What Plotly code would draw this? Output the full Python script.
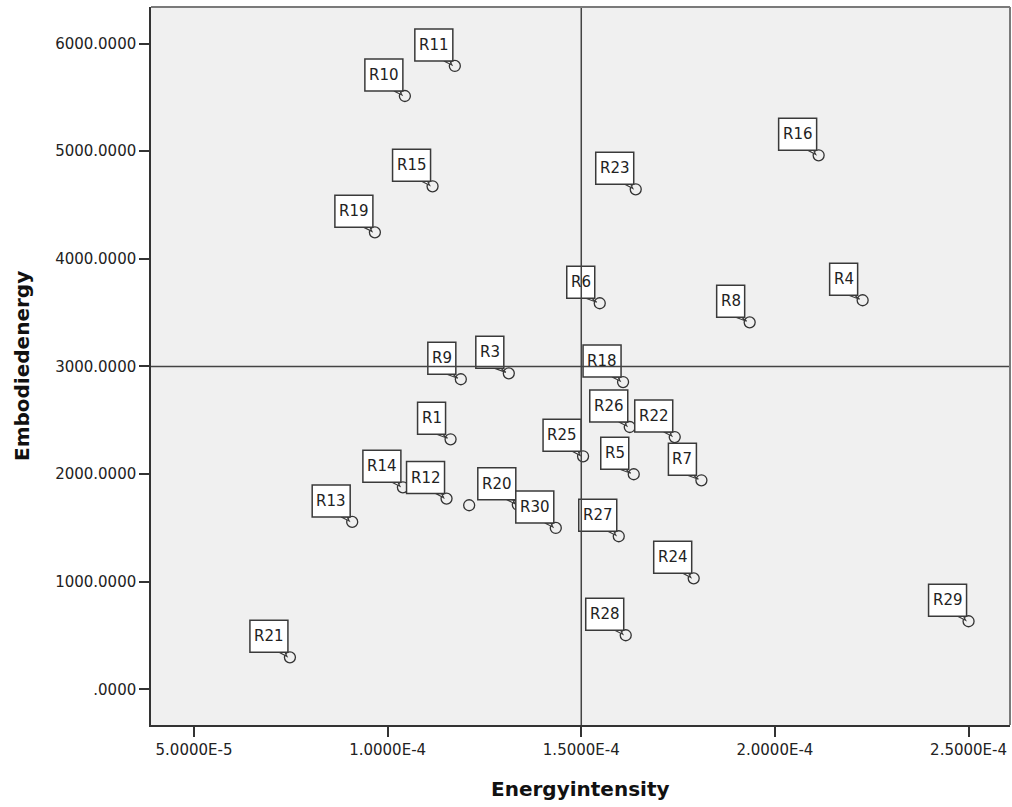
import plotly.graph_objects as go

# ---- data ----
labels = ["R1", "R3", "R4", "R5", "R6", "R7", "R8", "R9", "R10", "R11",
          "R12", "R13", "R14", "R15", "R16", "R18", "R19", "R20", "R21", "R22",
          "R23", "R24", "R25", "R26", "R27", "R28", "R29", "R30", ""]
energy_intensity = [1.1625e-4, 1.3129e-4, 2.2265e-4, 1.6355e-4, 1.5477e-4, 1.8102e-4,
                    1.9348e-4, 1.1890e-4, 1.0445e-4, 1.1735e-4, 1.1521e-4, 0.9085e-4,
                    1.0394e-4, 1.1160e-4, 2.1129e-4, 1.6079e-4, 0.9671e-4, 1.3361e-4,
                    0.7477e-4, 1.7413e-4, 1.6406e-4, 1.7903e-4, 1.5046e-4, 1.6252e-4,
                    1.5968e-4, 1.6148e-4, 2.5000e-4, 1.4342e-4, 1.2105e-4]
embodied_energy = [2323, 2936, 3615, 1998, 3587, 1942, 3410, 2881, 5513, 5792,
                   1772, 1555, 1877, 4674, 4962, 2855, 4246, 1715, 297, 2344,
                   4646, 1031, 2165, 2437, 1422, 502, 632, 1499, 1710]

x_ref_line = 1.5e-4
y_ref_line = 3000

x_tickvals = [5e-5, 1e-4, 1.5e-4, 2e-4, 2.5e-4]
x_ticktext = ["5.0000E-5", "1.0000E-4", "1.5000E-4", "2.0000E-4", "2.5000E-4"]
y_tickvals = [0, 1000, 2000, 3000, 4000, 5000, 6000]
y_ticktext = [".0000", "1000.0000", "2000.0000", "3000.0000", "4000.0000", "5000.0000", "6000.0000"]

x_title = "Energyintensity"
y_title = "Embodiedenergy"

# ---- figure ----
fig = go.Figure()
fig.add_trace(go.Scatter(
    x=energy_intensity, y=embodied_energy, mode="markers",
    marker=dict(symbol="circle", size=11, color="rgba(0,0,0,0)",
                line=dict(color="#333333", width=1.3)),
    text=labels, hoverinfo="text+x+y", showlegend=False))

shapes = []
annotations = []
box_line = dict(color="#3a3a3a", width=1.5)
for lab, xv, yv in zip(labels, energy_intensity, embodied_energy):
    if not lab:
        continue
    if len(lab) >= 3:
        bx0, bx1 = -40, -2
    else:
        bx0, bx1 = -33, -5
    cx = (bx0 + bx1) / 2
    # small tail from box to point
    shapes.append(dict(type="path", xref="x", yref="y", xsizemode="pixel", ysizemode="pixel",
                       xanchor=xv, yanchor=yv,
                       path=f"M{bx1-9},5 L{-3},1 L{bx1-3},5 Z",
                       fillcolor="white", line=dict(color="#3a3a3a", width=1.2), layer="above"))
    shapes.append(dict(type="rect", xref="x", yref="y", xsizemode="pixel", ysizemode="pixel",
                       xanchor=xv, yanchor=yv, x0=bx0, x1=bx1, y0=5, y1=37,
                       fillcolor="white", line=box_line, layer="above"))
    annotations.append(dict(x=xv, y=yv, xref="x", yref="y", text=lab, showarrow=False,
                            xshift=cx, yshift=21, xanchor="center", yanchor="middle",
                            font=dict(family="DejaVu Sans", size=15, color="#222222")))

# reference lines
shapes.append(dict(type="line", xref="x", yref="paper", x0=x_ref_line, x1=x_ref_line, y0=0, y1=1,
                   line=dict(color="#444444", width=1.5), layer="above"))
shapes.append(dict(type="line", xref="paper", yref="y", x0=0, x1=1, y0=y_ref_line, y1=y_ref_line,
                   line=dict(color="#444444", width=1.5), layer="above"))
# top / right frame
shapes.append(dict(type="line", xref="paper", yref="paper", x0=0, x1=1, y0=1, y1=1,
                   line=dict(color="#7a7a7a", width=2), layer="above"))
shapes.append(dict(type="line", xref="paper", yref="paper", x0=1, x1=1, y0=0, y1=1,
                   line=dict(color="#7a7a7a", width=2), layer="above"))

# axis titles
annotations.append(dict(x=0.5, y=0, xref="paper", yref="paper", text=f"<b>{x_title}</b>",
                        showarrow=False, yshift=-64, yanchor="middle", xanchor="center",
                        font=dict(family="DejaVu Sans", size=20, color="#111111")))
annotations.append(dict(x=0, y=0.5, xref="paper", yref="paper", text=f"<b>{y_title}</b>",
                        showarrow=False, xshift=-129, textangle=-90, xanchor="center", yanchor="middle",
                        font=dict(family="DejaVu Sans", size=20, color="#111111")))

fig.update_layout(
    width=1012, height=807,
    margin=dict(l=151, r=2, t=7, b=82),
    paper_bgcolor="white", plot_bgcolor="#f0f0f0",
    shapes=shapes, annotations=annotations,
    font=dict(family="DejaVu Sans", size=15, color="#222222"),
    xaxis=dict(range=[0.389e-4, 2.607e-4], tickvals=x_tickvals, ticktext=x_ticktext,
               showgrid=False, zeroline=False, showline=True, linecolor="#333333", linewidth=1.5,
               ticks="outside", ticklen=10, tickwidth=1.5, tickcolor="#333333",
               tickfont=dict(family="DejaVu Sans", size=15, color="#222222")),
    yaxis=dict(range=[-332, 6340], tickvals=y_tickvals, ticktext=y_ticktext,
               showgrid=False, zeroline=False, showline=True, linecolor="#333333", linewidth=1.5,
               ticks="outside", ticklen=10, tickwidth=1.5, tickcolor="#333333",
               tickfont=dict(family="DejaVu Sans", size=15, color="#222222")),
)

fig.write_html("out.html", config={"displayModeBar": False},
               post_script="document.body.style.margin='0';document.body.style.overflow='hidden';")
